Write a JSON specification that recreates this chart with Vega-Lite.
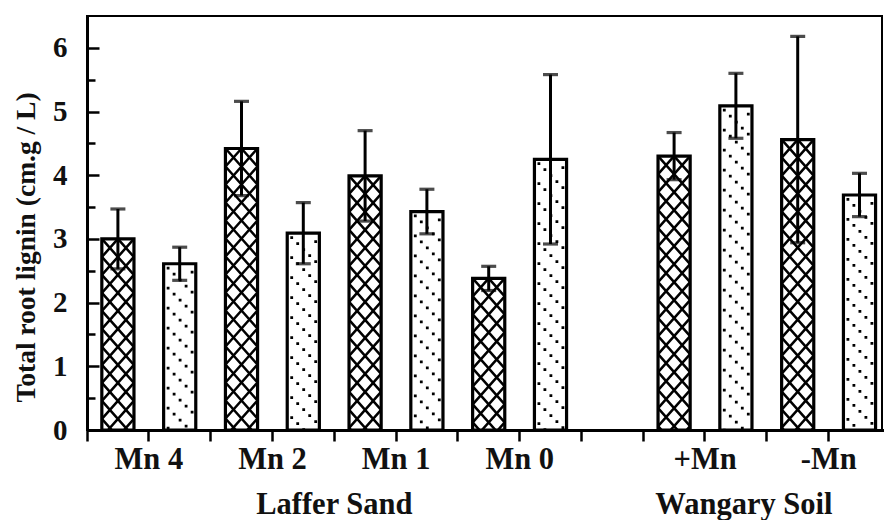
{
  "$schema": "https://vega.github.io/schema/vega-lite/v6.json",
  "width": 795,
  "height": 414,
  "autosize": {"type": "none"},
  "padding": {"left": 87, "top": 16, "right": 2, "bottom": 90},
  "background": "white",
  "config": {
    "view": {"stroke": "black", "strokeWidth": 2},
    "font": "Liberation Serif"
  },
  "data": {
    "values": [
      {"soil": "Laffer Sand", "treatment": "Mn 4", "series": "A", "lignin": 3.00, "se": 0.47},
      {"soil": "Laffer Sand", "treatment": "Mn 4", "series": "B", "lignin": 2.61, "se": 0.26},
      {"soil": "Laffer Sand", "treatment": "Mn 2", "series": "A", "lignin": 4.42, "se": 0.74},
      {"soil": "Laffer Sand", "treatment": "Mn 2", "series": "B", "lignin": 3.09, "se": 0.48},
      {"soil": "Laffer Sand", "treatment": "Mn 1", "series": "A", "lignin": 3.99, "se": 0.71},
      {"soil": "Laffer Sand", "treatment": "Mn 1", "series": "B", "lignin": 3.43, "se": 0.35},
      {"soil": "Laffer Sand", "treatment": "Mn 0", "series": "A", "lignin": 2.38, "se": 0.19},
      {"soil": "Laffer Sand", "treatment": "Mn 0", "series": "B", "lignin": 4.25, "se": 1.33},
      {"soil": "Wangary Soil", "treatment": "+Mn", "series": "A", "lignin": 4.30, "se": 0.37},
      {"soil": "Wangary Soil", "treatment": "+Mn", "series": "B", "lignin": 5.09, "se": 0.51},
      {"soil": "Wangary Soil", "treatment": "-Mn", "series": "A", "lignin": 4.56, "se": 1.62},
      {"soil": "Wangary Soil", "treatment": "-Mn", "series": "B", "lignin": 3.69, "se": 0.34}
    ]
  },
  "transform": [
    {"calculate": "datum.soil + '|' + datum.treatment + '|' + datum.series", "as": "key"}
  ],
  "encoding": {
    "x": {
      "field": "key",
      "type": "nominal",
      "scale": {
        "type": "band",
        "domain": [
          "Laffer Sand|Mn 4|A", "Laffer Sand|Mn 4|B",
          "Laffer Sand|Mn 2|A", "Laffer Sand|Mn 2|B",
          "Laffer Sand|Mn 1|A", "Laffer Sand|Mn 1|B",
          "Laffer Sand|Mn 0|A", "Laffer Sand|Mn 0|B",
          "-",
          "Wangary Soil|+Mn|A", "Wangary Soil|+Mn|B",
          "Wangary Soil|-Mn|A", "Wangary Soil|-Mn|B"
        ],
        "range": [0, 803.4],
        "paddingInner": 0,
        "paddingOuter": 0
      },
      "axis": {
        "title": null,
        "values": [
          "Laffer Sand|Mn 4|A", "Laffer Sand|Mn 4|B",
          "Laffer Sand|Mn 2|A", "Laffer Sand|Mn 2|B",
          "Laffer Sand|Mn 1|A", "Laffer Sand|Mn 1|B",
          "Laffer Sand|Mn 0|A", "Laffer Sand|Mn 0|B",
          "-",
          "Wangary Soil|+Mn|A", "Wangary Soil|+Mn|B",
          "Wangary Soil|-Mn|A"
        ],
        "bandPosition": 1,
        "tickExtra": true,
        "domain": true,
        "domainColor": "black",
        "domainWidth": 3,
        "ticks": true,
        "tickSize": 11,
        "tickWidth": 2.5,
        "tickColor": "black",
        "grid": false,
        "labelAngle": 0,
        "labelFont": "Liberation Serif",
        "labelFontSize": 30.5,
        "labelFontWeight": "bold",
        "labelColor": "#111111",
        "labelPadding": 3,
        "labelLineHeight": 45,
        "labelOverlap": false,
        "labelFlush": false,
        "labelBound": false,
        "labelOffset": {"condition": {"test": "datum.value === 'Wangary Soil|+Mn|B'", "value": 8}, "value": 31},
        "labelExpr": "split(datum.value, '|')[2] === 'A' ? split(datum.value, '|')[1] : (datum.value === 'Laffer Sand|Mn 2|B' || datum.value === 'Wangary Soil|+Mn|B') ? ['', split(datum.value, '|')[0]] : ''"
      }
    },
    "y": {
      "field": "lignin",
      "type": "quantitative",
      "scale": {"domain": [0, 6.5], "nice": false, "zero": true},
      "axis": {
        "title": "Total root lignin (cm.g / L)",
        "titleFont": "Liberation Serif",
        "titleFontSize": 27.5,
        "titleFontWeight": "bold",
        "titleColor": "#111111",
        "titleX": -47,
        "titleY": 231,
        "values": [0, 0.5, 1, 1.5, 2, 2.5, 3, 3.5, 4, 4.5, 5, 5.5, 6],
        "labelExpr": "datum.value % 1 === 0 ? format(datum.value, 'd') : ''",
        "labelFont": "Liberation Serif",
        "labelFontSize": 29,
        "labelFontWeight": "bold",
        "labelColor": "#111111",
        "labelPadding": 32,
        "tickSize": {"condition": {"test": "datum.value % 1 !== 0", "value": -8}, "value": -12},
        "tickWidth": 2.5,
        "tickColor": "black",
        "domainColor": "black",
        "domainWidth": 3,
        "grid": false
      }
    }
  },
  "layer": [
    {
      "transform": [{"filter": "datum.series === 'A'"}],
      "mark": {
        "type": "point",
        "clip": true,
        "filled": false,
        "opacity": 1,
        "stroke": "black",
        "strokeWidth": 2.5,
        "size": 4,
        "shape": "M0 0L16 18M-16 18L0 0M-16 0L16 36M-16 18L16 54M-16 36L16 72M-16 54L16 90M-16 72L16 108M-16 90L16 126M-16 108L16 144M-16 126L16 162M-16 144L16 180M-16 162L16 198M-16 180L16 216M-16 198L16 234M-16 216L16 252M-16 234L16 270M-16 252L16 288M-16 270L16 306M-16 288L16 324M-16 36L16 0M-16 54L16 18M-16 72L16 36M-16 90L16 54M-16 108L16 72M-16 126L16 90M-16 144L16 108M-16 162L16 126M-16 180L16 144M-16 198L16 162M-16 216L16 180M-16 234L16 198M-16 252L16 216M-16 270L16 234M-16 288L16 252M-16 306L16 270M-16 324L16 288"
      }
    },
    {
      "transform": [{"filter": "datum.series === 'B'"}],
      "mark": {
        "type": "point",
        "clip": true,
        "filled": true,
        "opacity": 1,
        "fill": "black",
        "strokeWidth": 0,
        "size": 4,
        "shape": "M11 7h2.8v2.8h-2.8zM-13 3h2.8v2.8h-2.8zM-7 9h2.8v2.8h-2.8zM-1 15h2.8v2.8h-2.8zM5 21h2.8v2.8h-2.8zM11 27h2.8v2.8h-2.8zM-13 23h2.8v2.8h-2.8zM-7 29h2.8v2.8h-2.8zM-1 35h2.8v2.8h-2.8zM5 41h2.8v2.8h-2.8zM11 47h2.8v2.8h-2.8zM-13 43h2.8v2.8h-2.8zM-7 49h2.8v2.8h-2.8zM-1 55h2.8v2.8h-2.8zM5 61h2.8v2.8h-2.8zM11 67h2.8v2.8h-2.8zM-13 63h2.8v2.8h-2.8zM-7 69h2.8v2.8h-2.8zM-1 75h2.8v2.8h-2.8zM5 81h2.8v2.8h-2.8zM11 87h2.8v2.8h-2.8zM-13 83h2.8v2.8h-2.8zM-7 89h2.8v2.8h-2.8zM-1 95h2.8v2.8h-2.8zM5 101h2.8v2.8h-2.8zM11 107h2.8v2.8h-2.8zM-13 103h2.8v2.8h-2.8zM-7 109h2.8v2.8h-2.8zM-1 115h2.8v2.8h-2.8zM5 121h2.8v2.8h-2.8zM11 127h2.8v2.8h-2.8zM-13 123h2.8v2.8h-2.8zM-7 129h2.8v2.8h-2.8zM-1 135h2.8v2.8h-2.8zM5 141h2.8v2.8h-2.8zM11 147h2.8v2.8h-2.8zM-13 143h2.8v2.8h-2.8zM-7 149h2.8v2.8h-2.8zM-1 155h2.8v2.8h-2.8zM5 161h2.8v2.8h-2.8zM11 167h2.8v2.8h-2.8zM-13 163h2.8v2.8h-2.8zM-7 169h2.8v2.8h-2.8zM-1 175h2.8v2.8h-2.8zM5 181h2.8v2.8h-2.8zM11 187h2.8v2.8h-2.8zM-13 183h2.8v2.8h-2.8zM-7 189h2.8v2.8h-2.8zM-1 195h2.8v2.8h-2.8zM5 201h2.8v2.8h-2.8zM11 207h2.8v2.8h-2.8zM-13 203h2.8v2.8h-2.8zM-7 209h2.8v2.8h-2.8zM-1 215h2.8v2.8h-2.8zM5 221h2.8v2.8h-2.8zM11 227h2.8v2.8h-2.8zM-13 223h2.8v2.8h-2.8zM-7 229h2.8v2.8h-2.8zM-1 235h2.8v2.8h-2.8zM5 241h2.8v2.8h-2.8zM11 247h2.8v2.8h-2.8zM-13 243h2.8v2.8h-2.8zM-7 249h2.8v2.8h-2.8zM-1 255h2.8v2.8h-2.8zM5 261h2.8v2.8h-2.8zM11 267h2.8v2.8h-2.8zM-13 263h2.8v2.8h-2.8zM-7 269h2.8v2.8h-2.8zM-1 275h2.8v2.8h-2.8zM5 281h2.8v2.8h-2.8zM11 287h2.8v2.8h-2.8zM-13 283h2.8v2.8h-2.8zM-7 289h2.8v2.8h-2.8zM-1 295h2.8v2.8h-2.8zM5 301h2.8v2.8h-2.8zM11 307h2.8v2.8h-2.8zM-13 303h2.8v2.8h-2.8zM-7 309h2.8v2.8h-2.8zM-1 315h2.8v2.8h-2.8zM5 321h2.8v2.8h-2.8zM11 327h2.8v2.8h-2.8zM-13 323h2.8v2.8h-2.8zM-7 329h2.8v2.8h-2.8zM-1 335h2.8v2.8h-2.8zM5 341h2.8v2.8h-2.8zM11 347h2.8v2.8h-2.8z"
      }
    },
    {
      "mark": {
        "type": "bar",
        "filled": false,
        "color": "black",
        "stroke": "black",
        "strokeWidth": 3.2,
        "width": {"band": 0.52}
      }
    },
    {
      "mark": {
        "type": "errorbar",
        "color": "black",
        "thickness": 3,
        "ticks": {"size": 15, "thickness": 3.2, "color": "black"}
      },
      "encoding": {
        "yError": {"field": "se"}
      }
    }
  ]
}
